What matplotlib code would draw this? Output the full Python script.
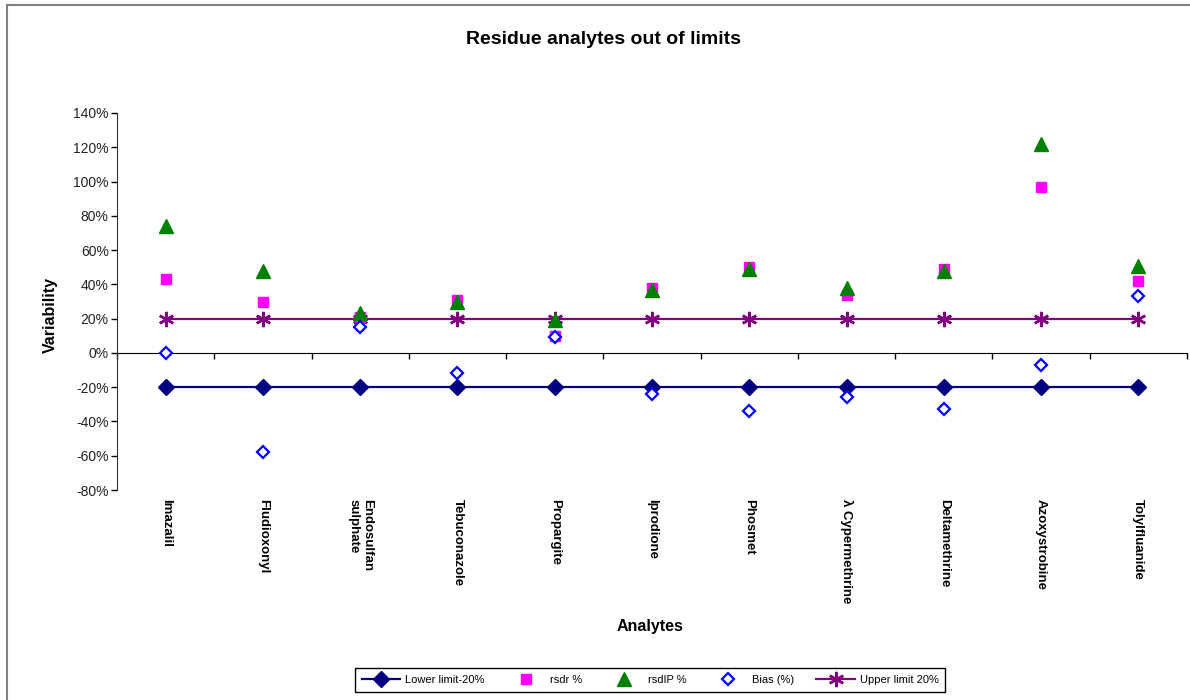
import matplotlib
matplotlib.use("Agg")
import matplotlib.pyplot as plt
from matplotlib.lines import Line2D
from matplotlib.ticker import FuncFormatter, FixedLocator
import numpy as np

plt.rcParams["font.family"] = ["Liberation Sans", "DejaVu Sans"]

# data (values in %)
analytes = [
    "Imazalil", "Fludioxonyl", "Endosulfan\nsulphate", "Tebuconazole", "Propargite",
    "Iprodione", "Phosmet", "\u03bb Cypermethrine", "Deltamethrine", "Azoxystrobine",
    "Tolylfluanide",
]
lower_limit = [-20] * 11
upper_limit = [20] * 11
rsdr = [43, 30, 21, 31, 10, 38, 50, 34, 49, 97, 42]
rsdip = [74, 48, 23, 30, 19, 37, 49, 38, 48, 122, 51]
bias = [0, -58, 15, -12, 9, -24, -34, -26, -33, -7, 33]

x = np.arange(len(analytes))

fig = plt.figure(figsize=(11.9, 7), dpi=100)
ax = fig.add_axes([117 / 1190, 1 - 490 / 700, 1070 / 1190, 377 / 700])

ax.plot(x, lower_limit, color="#000080", lw=1.6, marker="D", ms=8,
        mfc="#000080", mec="#000080", label="Lower limit-20%", zorder=3)
ax.plot(x, rsdr, ls="none", marker="s", ms=7.5, mfc="#ff00ff", mec="#ff00ff",
        label="rsdr %", zorder=4)
ax.plot(x, rsdip, ls="none", marker="^", ms=9.5, mfc="#008000", mec="#008000",
        label="rsdIP %", zorder=5)
ax.plot(x, bias, ls="none", marker="D", ms=6.5, mfc="white", mec="#0000ff",
        mew=1.6, label="Bias (%)", zorder=6)
ax.plot(x, upper_limit, color="#800080", lw=1.6, marker=(6, 2, 0), ms=11,
        mec="#800080", mew=1.8, label="Upper limit 20%", zorder=3)

ax.set_xlim(-0.5, len(analytes) - 0.5)
ax.set_ylim(-80, 140)
ax.yaxis.set_major_locator(FixedLocator(np.arange(-80, 141, 20)))
ax.yaxis.set_major_formatter(FuncFormatter(lambda v, p: f"{v:.0f}%"))
ax.tick_params(axis="y", direction="out", length=4, width=1, labelsize=10,
               labelcolor="#222222", pad=2)

# category axis crosses at 0, labels sit below the plot
ax.spines["top"].set_visible(False)
ax.spines["right"].set_visible(False)
ax.spines["bottom"].set_position(("data", 0))
ax.spines["left"].set_color("#333333")
ax.xaxis.set_major_locator(FixedLocator(np.arange(-0.5, len(analytes), 1.0)))
ax.tick_params(axis="x", direction="out", length=4, width=1, labelbottom=False)

for xi, name in zip(x, analytes):
    ax.text(xi, -85, name, rotation=-90, ha="center", va="top",
            multialignment="left", fontsize=9.5, fontweight="bold",
            clip_on=False)

fig.text(603 / 1190, 1 - 40 / 700, "Residue analytes out of limits",
         ha="center", va="center", fontsize=14, fontweight="bold")
fig.text(50 / 1190, 1 - 315 / 700, "Variability", rotation=90,
         ha="center", va="center", fontsize=11.5, fontweight="bold")
fig.text(650 / 1190, 1 - 627 / 700, "Analytes", ha="center", va="center",
         fontsize=11.5, fontweight="bold")

leg = fig.legend(loc="center", bbox_to_anchor=(650 / 1190, 1 - 680 / 700),
                 ncol=5, fontsize=8, frameon=True, fancybox=False,
                 edgecolor="black", framealpha=1, handlelength=3.5,
                 columnspacing=2.0, handletextpad=0.4, borderpad=0.6)
leg.get_frame().set_linewidth(1)

# outer chart frame (left and top edges visible)
fig.add_artist(Line2D([7 / 1190, 7 / 1190], [0, 1 - 5 / 700], color="#808080", lw=1.5))
fig.add_artist(Line2D([7 / 1190, 1], [1 - 5 / 700, 1 - 5 / 700], color="#808080", lw=1.5))

fig.savefig("out.png", dpi=100)
